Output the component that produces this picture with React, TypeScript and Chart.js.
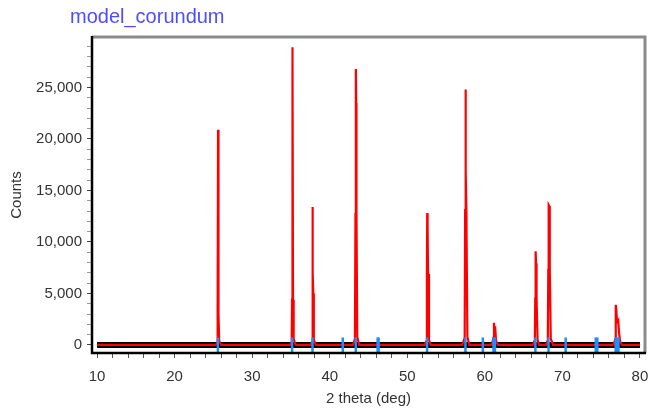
import React, { useEffect, useRef } from "react";
import { Chart, registerables } from "chart.js";

Chart.register(...registerables);

// Calculated profile (2θ, counts)
const calcTheta = [
  10,
  25.3, 25.5, 25.55, 25.6, 25.64, 25.68, 25.75, 26.0,
  34.9, 35.1, 35.14, 35.18, 35.22, 35.27, 35.35, 35.6,
  37.55, 37.72, 37.76, 37.8, 37.84, 37.88, 37.95, 38.2,
  43.0, 43.25, 43.32, 43.37, 43.41, 43.45, 43.55, 43.8,
  52.25, 52.48, 52.53, 52.57, 52.62, 52.68, 52.8, 53.0,
  57.1, 57.4, 57.46, 57.51, 57.55, 57.62, 57.75, 58.0,
  60.9, 61.1, 61.18, 61.24, 61.32, 61.45, 61.7,
  66.2, 66.45, 66.5, 66.55, 66.6, 66.67, 66.8, 67.0,
  67.9, 68.12, 68.18, 68.23, 68.3, 68.37, 68.5, 68.8,
  76.6, 76.82, 76.88, 76.95, 77.05, 77.2, 77.3, 77.45, 77.7,
  80,
];
const calcCounts = [
  0,
  0, 200, 3200, 20900, 18700, 3000, 400, 0,
  0, 300, 4400, 28900, 28100, 4400, 600, 0,
  0, 300, 5000, 13400, 7000, 5000, 500, 0,
  0, 600, 12700, 26800, 23500, 12700, 800, 0,
  0, 400, 6900, 12800, 11300, 6900, 500, 0,
  0, 700, 13100, 24800, 16800, 13100, 800, 0,
  0, 700, 2150, 1300, 1800, 400, 0,
  0, 500, 4500, 9100, 7900, 4500, 500, 0,
  0, 500, 7300, 13600, 13500, 7300, 600, 0,
  0, 600, 3900, 3400, 2250, 2400, 1200, 300, 0,
  0,
];

// Observed / background band
const bandTheta = [10, 80];
const bandCounts = [0, 0];

// Reflection markers (2θ)
const reflections = [
  25.58, 35.15, 37.78, 41.68, 43.36, 46.18, 46.3, 52.55, 57.5, 59.74,
  61.12, 61.3, 66.52, 68.21, 70.42, 74.3, 74.5, 76.87, 77.05, 77.23,
];

// Axis ticks
const xTickValues = [10, 12, 14, 16, 18, 20, 22, 24, 26, 28, 30, 32, 34, 36, 38, 40, 42, 44, 46, 48, 50, 52, 54, 56, 58, 60, 62, 64, 66, 68, 70, 72, 74, 76, 78, 80];
const xLabelEvery = 10;
const yTickValues = [0, 1000, 2000, 3000, 4000, 5000, 6000, 7000, 8000, 9000, 10000, 11000, 12000, 13000, 14000, 15000, 16000, 17000, 18000, 19000, 20000, 21000, 22000, 23000, 24000, 25000, 26000, 27000, 28000, 29000];
const yLabelEvery = 5000;

const chartTitle = "model_corundum";
const xTitle = "2 theta (deg)";
const yTitle = "Counts";

const FONT = '"Liberation Sans", Arial, sans-serif';

export default function App() {
  const ref = useRef<HTMLCanvasElement | null>(null);

  useEffect(() => {
    document.body.style.margin = "0";
    const canvas = ref.current;
    if (!canvas) return;

    const titlePlugin = {
      id: "topTitle",
      afterDraw(chart: any) {
        const ctx = chart.ctx;
        ctx.save();
        ctx.font = `20px ${FONT}`;
        ctx.fillStyle = "#4d4dff";
        ctx.textBaseline = "middle";
        ctx.textAlign = "left";
        ctx.fillText(chartTitle, 70, 17);
        ctx.restore();
      },
    };

    const framePlugin = {
      id: "frame",
      afterDraw(chart: any) {
        const { left, right, top, bottom } = chart.chartArea;
        const ctx = chart.ctx;
        ctx.save();
        ctx.lineWidth = 3;
        ctx.strokeStyle = "#8a8a8a";
        ctx.beginPath();
        ctx.moveTo(left, top);
        ctx.lineTo(right, top);
        ctx.lineTo(right, bottom);
        ctx.stroke();
        ctx.lineWidth = 2.5;
        ctx.strokeStyle = "#000";
        ctx.beginPath();
        ctx.moveTo(left, top - 1);
        ctx.lineTo(left, bottom);
        ctx.lineTo(right + 1, bottom);
        ctx.stroke();
        ctx.restore();
      },
    };

    const chart = new Chart(canvas, {
      type: "line",
      data: {
        datasets: [
          {
            label: "markers",
            type: "scatter",
            data: reflections.map((x) => ({ x, y: 0 })),
            pointStyle: "line",
            rotation: 90,
            pointRadius: 7.5,
            pointBorderWidth: 2.5,
            borderColor: "#1f8fff",
            backgroundColor: "#1f8fff",
            showLine: false,
            order: 0,
          } as any,
          {
            label: "calc",
            data: calcTheta.map((x, i) => ({ x, y: calcCounts[i] })),
            borderColor: "#ff0000",
            borderWidth: 2.2,
            pointRadius: 0,
            tension: 0,
            fill: false,
            order: 1,
          },
          {
            label: "band",
            data: bandTheta.map((x, i) => ({ x, y: bandCounts[i] })),
            borderColor: "#000000",
            borderWidth: 6,
            pointRadius: 0,
            fill: false,
            order: 2,
          },
        ],
      },
      options: {
        responsive: false,
        animation: false,
        devicePixelRatio: 1,
        layout: { padding: { top: 37, right: 10, left: 0, bottom: 0 } },
        plugins: {
          legend: { display: false },
          tooltip: { enabled: false },
          title: { display: false },
        },
        scales: {
          x: {
            type: "linear",
            min: 9.35,
            max: 80.65,
            border: { display: false },
            afterBuildTicks: (s: any) => {
              s.ticks = xTickValues.map((value) => ({ value }));
            },
            grid: {
              drawOnChartArea: false,
              drawTicks: true,
              tickLength: 5,
              tickColor: "#555",
            },
            ticks: {
              autoSkip: false,
              minRotation: 0,
              maxRotation: 0,
              padding: 10,
              color: "#333",
              font: { family: FONT, size: 15 },
              callback: (v: any) => (Number(v) % xLabelEvery === 0 ? String(v) : ""),
            },
            title: {
              display: true,
              text: xTitle,
              color: "#333",
              font: { family: FONT, size: 15 },
              padding: { top: 0, bottom: 3 },
            },
            afterFit: (s: any) => {
              s.height = 58;
              s.paddingLeft = 0;
              s.paddingRight = 0;
            },
          },
          y: {
            type: "linear",
            min: -780,
            max: 29900,
            border: { display: false },
            afterBuildTicks: (s: any) => {
              s.ticks = yTickValues.map((value) => ({ value }));
            },
            grid: {
              drawOnChartArea: false,
              drawTicks: true,
              tickLength: 5,
              tickColor: (c: any) => {
                const v = c.tick ? Number(c.tick.value) : 0;
                return v % yLabelEvery === 0 ? "#444" : "#999";
              },
            },
            ticks: {
              autoSkip: false,
              padding: 5,
              color: "#333",
              font: { family: FONT, size: 15 },
              callback: (v: any) =>
                Number(v) % yLabelEvery === 0 ? Number(v).toLocaleString("en-US") : "",
            },
            title: {
              display: true,
              text: yTitle,
              color: "#333",
              font: { family: FONT, size: 15 },
              padding: { top: 8, bottom: 0 },
            },
            afterFit: (s: any) => {
              s.width = 92;
              s.paddingTop = 0;
              s.paddingBottom = 0;
            },
          },
        },
      },
      plugins: [titlePlugin, framePlugin],
    });

    return () => {
      chart.destroy();
    };
  }, []);

  return (
    <div style={{ width: 655, height: 411 }}>
      <canvas ref={ref} width={655} height={411} style={{ display: "block" }} />
    </div>
  );
}
